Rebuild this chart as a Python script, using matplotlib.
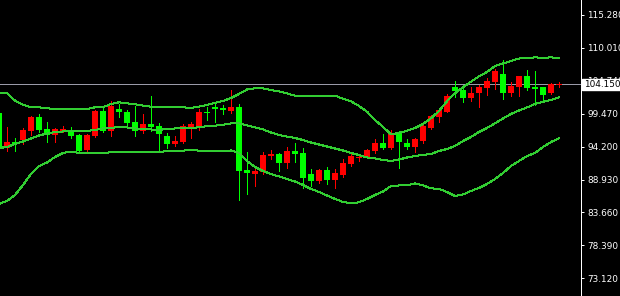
import numpy as np
import matplotlib
matplotlib.use("Agg")
import matplotlib.pyplot as plt
import matplotlib.transforms as mtransforms

# -----------------------------
# DATA
# -----------------------------
opens = [99.64, 93.94, 94.99, 95.26, 96.75, 98.95, 97.03, 96.06, 96.71, 96.87,
         96.06, 93.66, 95.90, 99.91, 96.71, 100.23, 99.70, 98.10, 96.75, 97.83,
         97.51, 95.90, 94.58, 94.90, 97.39, 97.55, 99.80, 100.60, 100.34, 99.96,
         100.60, 90.46, 89.82, 90.09, 92.75, 93.02, 91.63, 93.50, 93.13, 89.82,
         88.75, 90.46, 88.86, 89.66, 91.42, 92.38, 92.49, 93.50, 94.74, 94.03,
         96.50, 94.74, 94.19, 95.15, 97.23, 98.99, 99.80, 103.70, 103.27, 102.04,
         102.74, 103.64, 104.60, 105.83, 102.84, 103.80, 105.51, 103.70, 103.70, 102.74,
         104.12]
highs = [100.07, 97.39, 95.54, 97.23, 99.15, 99.43, 98.19, 97.23, 97.55, 97.35,
         96.22, 96.22, 100.07, 100.34, 101.51, 100.98, 100.07, 100.71, 99.38, 102.31,
         97.94, 96.34, 95.90, 97.78, 98.15, 100.18, 100.60, 100.98, 100.87, 103.27,
         101.03, 93.39, 90.99, 93.29, 93.66, 93.13, 94.10, 94.74, 93.94, 90.57,
         90.62, 90.89, 90.57, 92.22, 92.97, 92.97, 93.77, 95.38, 96.22, 96.87,
         96.71, 95.38, 95.54, 98.10, 99.27, 100.34, 102.58, 104.71, 104.07, 103.75,
         104.07, 105.14, 106.59, 108.07, 104.60, 105.51, 106.47, 106.31, 103.80, 104.44,
         104.60]
lows = [93.66, 93.55, 93.50, 94.58, 96.06, 96.50, 94.99, 94.90, 96.50, 95.54,
        93.39, 93.29, 95.70, 96.59, 95.90, 98.99, 97.39, 95.95, 96.43, 96.75,
        93.55, 94.03, 94.35, 94.74, 95.54, 96.87, 98.47, 98.19, 99.43, 99.64,
        85.66, 86.62, 87.95, 89.82, 92.22, 90.30, 90.73, 91.79, 87.53, 87.90,
        88.43, 88.22, 87.63, 89.39, 91.10, 91.90, 92.33, 93.23, 93.77, 93.77,
        90.73, 93.82, 93.29, 94.83, 97.03, 98.10, 99.70, 102.20, 101.40, 101.56,
        100.60, 102.47, 103.43, 101.83, 102.36, 102.36, 103.27, 100.87, 101.67, 102.63,
        103.70]
closes = [93.98, 94.90, 94.67, 96.87, 98.99, 96.87, 96.06, 97.03, 97.03, 95.90,
          93.55, 96.06, 99.91, 96.71, 100.76, 99.80, 98.03, 96.75, 97.78, 97.39,
          96.22, 94.58, 95.10, 97.51, 97.78, 99.80, 99.64, 100.18, 100.07, 100.60,
          90.35, 90.03, 90.35, 92.86, 93.07, 91.63, 93.50, 93.02, 89.23, 88.75,
          90.46, 88.86, 90.03, 91.63, 92.70, 92.49, 93.66, 94.74, 94.03, 96.43,
          94.99, 94.19, 95.42, 97.51, 99.11, 100.07, 102.31, 103.16, 102.04, 102.84,
          103.80, 104.71, 106.31, 102.84, 103.91, 105.51, 103.64, 103.43, 102.47, 104.23,
          104.15]

bb_upper = [102.74, 102.74, 101.56, 100.92, 100.50, 100.50, 100.34, 100.23, 100.23, 100.23,
            100.23, 100.23, 100.50, 100.50, 101.03, 101.30, 101.14, 100.98, 100.76, 100.60,
            100.50, 100.50, 100.50, 100.50, 100.39, 100.60, 100.87, 101.19, 101.51, 101.99,
            102.63, 103.35, 103.54, 103.54, 103.27, 103.03, 102.71, 102.36, 102.36, 102.36,
            102.36, 102.36, 102.36, 101.88, 101.46, 100.71, 99.80, 98.47, 97.35, 96.18,
            96.39, 96.75, 97.19, 97.83, 98.74, 99.91, 101.46, 102.74, 103.70, 104.60,
            105.46, 106.15, 107.11, 107.51, 107.91, 108.31, 108.34, 108.51, 108.39, 108.51,
            108.34]
bb_mid = [93.98, 94.14, 94.62, 95.02, 95.50, 95.98, 96.30, 96.55, 96.63, 96.63,
          96.63, 96.71, 96.87, 97.11, 97.19, 97.35, 97.27, 97.11, 97.03, 96.95,
          96.87, 97.03, 97.11, 97.11, 97.11, 97.35, 97.46, 97.55, 97.71, 97.91,
          97.94, 97.59, 97.27, 96.95, 96.46, 96.06, 95.82, 95.58, 95.26, 94.86,
          94.54, 94.22, 93.90, 93.58, 93.18, 92.86, 92.46, 92.30, 92.06, 91.90,
          92.14, 92.46, 92.70, 92.86, 93.02, 93.50, 93.82, 94.30, 95.10, 95.74,
          96.55, 97.19, 97.94, 98.71, 99.43, 99.99, 100.47, 101.03, 101.35, 101.67,
          102.10]
bb_lower = [85.02, 85.50, 86.46, 88.06, 89.82, 91.10, 91.66, 92.54, 93.18, 93.42,
            93.18, 93.13, 93.13, 93.18, 93.29, 93.29, 93.29, 93.29, 93.29, 93.29,
            93.29, 93.50, 93.55, 93.55, 93.74, 93.55, 93.55, 93.55, 93.55, 93.58,
            93.18, 91.90, 90.94, 90.30, 89.82, 89.42, 89.02, 88.62, 88.06, 87.42,
            86.94, 86.38, 85.82, 85.34, 85.13, 85.29, 85.82, 86.46, 87.02, 87.90,
            87.98, 87.98, 88.30, 87.98, 87.53, 87.42, 86.94, 86.30, 86.54, 87.10,
            87.58, 88.22, 89.02, 89.98, 91.10, 91.90, 92.70, 93.18, 94.14, 94.94,
            95.54]

y_ticks = [115.28, 110.01, 104.74, 99.47, 94.20, 88.93, 83.66, 78.39, 73.12]
last_price = 104.15

UP = "#ff0000"
DOWN = "#00ff00"
BAND = "#32cd32"
PX = 0.72  # one pixel in points at 100 dpi

# -----------------------------
# FIGURE
# -----------------------------
fig = plt.figure(figsize=(6.2, 2.96), dpi=100, facecolor="black")
ax = fig.add_axes([0, 0, 581 / 620, 1])
ax.set_facecolor("black")

o = np.array(opens)
h = np.array(highs)
l = np.array(lows)
c = np.array(closes)
x = np.arange(len(o)) - 1

up = c >= o
colors = np.where(up, UP, DOWN)
body_lo = np.minimum(o, c)
body_h = np.maximum(np.abs(c - o), 0.16)

ax.vlines(x, l, h, colors=colors, linewidth=PX, antialiased=False, zorder=2)
ax.bar(x, body_h, bottom=body_lo, width=0.68, color=colors, linewidth=0,
       antialiased=False, zorder=3)

# Bollinger bands
for band in (bb_upper, bb_mid, bb_lower):
    ax.plot(x, band, color=BAND, linewidth=PX, antialiased=False, zorder=4)

# last price line
ax.axhline(last_price, color="#9a9aa8", linewidth=PX, antialiased=False, zorder=1)

ax.set_xlim(-0.875, 71.75)
ax.set_ylim(70.28, 117.68)

# -----------------------------
# AXIS
# -----------------------------
for side in ("left", "top", "bottom"):
    ax.spines[side].set_visible(False)
ax.spines["right"].set_color("white")
ax.spines["right"].set_linewidth(PX)
ax.set_xticks([])
ax.yaxis.tick_right()
ax.set_yticks(y_ticks)
ax.set_yticklabels(["%.3f" % v for v in y_ticks])
ax.tick_params(axis="y", colors="white", labelcolor="white", length=2.5, width=PX,
               pad=2, labelsize=6.4)

trans = mtransforms.blended_transform_factory(ax.transAxes, ax.transData)
ax.text(1.0045, last_price, "%.3f" % last_price, transform=trans, ha="left",
        va="center", fontsize=6.4, color="black", clip_on=False, zorder=10,
        bbox=dict(boxstyle="square,pad=0.15", facecolor="white", edgecolor="white"))

fig.savefig("out.png", dpi=100, facecolor="black")
